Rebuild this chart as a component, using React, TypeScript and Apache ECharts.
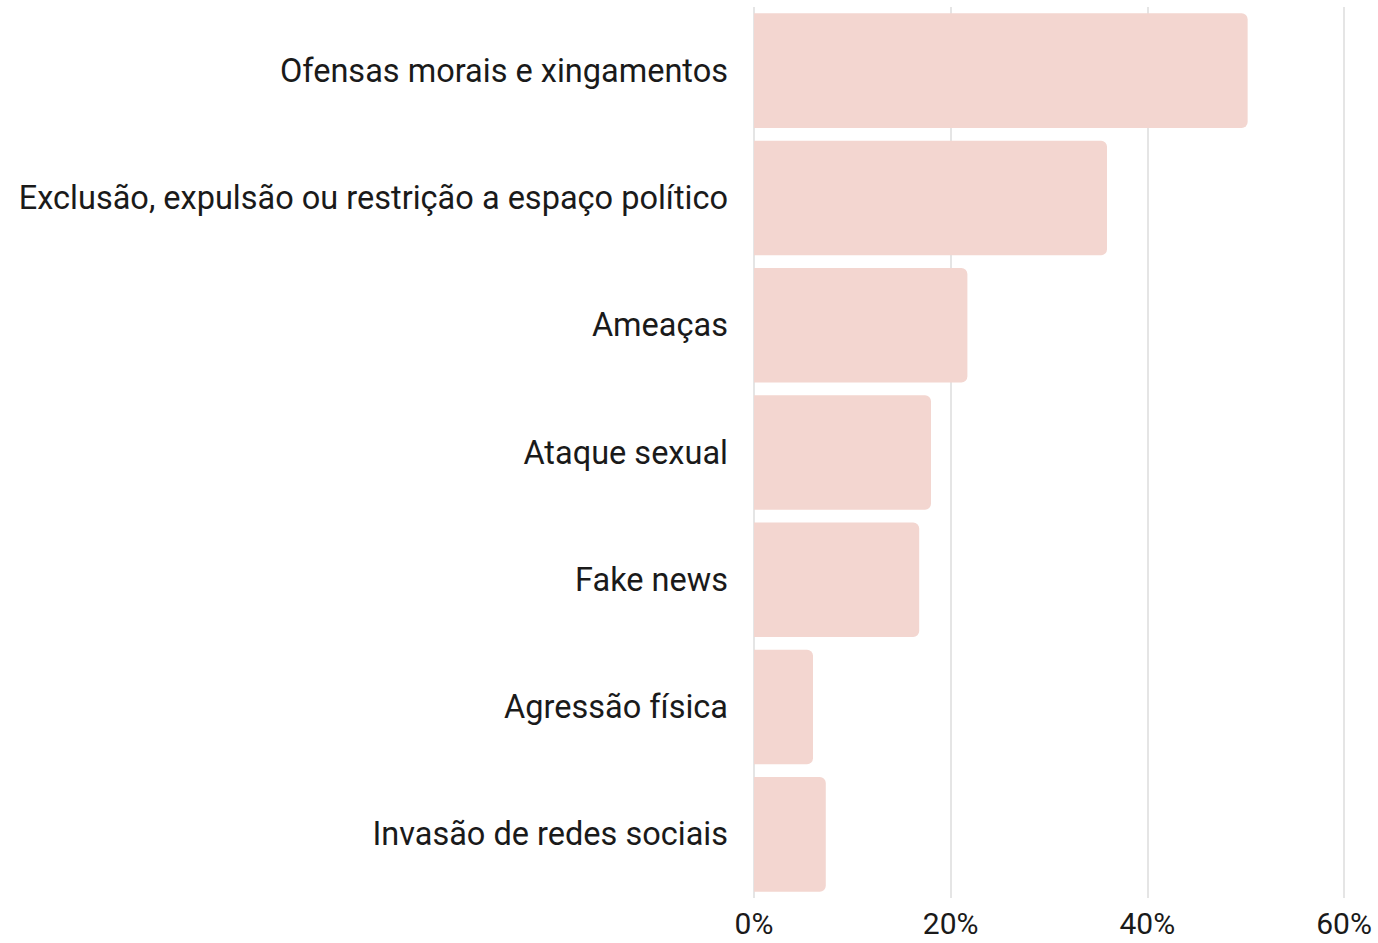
import React, { useEffect, useRef } from "react";
import * as echarts from "echarts";

const categories = [
  "Ofensas morais e xingamentos",
  "Exclusão, expulsão ou restrição a espaço político",
  "Ameaças",
  "Ataque sexual",
  "Fake news",
  "Agressão física",
  "Invasão de redes sociais",
];
const values = [50.2, 35.9, 21.7, 18.0, 16.8, 6.0, 7.3];
const xTicks = { min: 0, max: 60, interval: 20 };

export default function App() {
  const ref = useRef<HTMLDivElement>(null);
  useEffect(() => {
    document.body.style.margin = "0";
    const chart = echarts.init(ref.current!, null, { renderer: "svg" });
    chart.setOption({
      animation: false,
      backgroundColor: "#ffffff",
      textStyle: { fontFamily: "Roboto" },
      grid: { left: 754, right: 34, top: 7, bottom: 45, containLabel: false },
      xAxis: {
        type: "value",
        min: xTicks.min,
        max: xTicks.max,
        interval: xTicks.interval,
        axisLine: { show: false },
        axisTick: { show: false },
        splitLine: { show: true, lineStyle: { color: "#dcdcdc", width: 1.5 } },
        axisLabel: {
          formatter: "{value}%",
          fontSize: 30,
          lineHeight: 27,
          color: "#1a1a1a",
          margin: 12,
          fontFamily: "Roboto",
        },
      },
      yAxis: {
        type: "category",
        data: categories,
        inverse: true,
        axisLine: { show: false },
        axisTick: { show: false },
        axisLabel: {
          fontSize: 32.5,
          color: "#1a1a1a",
          margin: 26,
          fontFamily: "Roboto",
        },
      },
      series: [
        {
          type: "bar",
          data: values,
          barCategoryGap: "10%",
          itemStyle: { color: "#f3d6d0", borderRadius: [0, 6, 6, 0] },
        },
      ],
    });
    return () => chart.dispose();
  }, []);
  return <div ref={ref} style={{ width: 1378, height: 943 }} />;
}
